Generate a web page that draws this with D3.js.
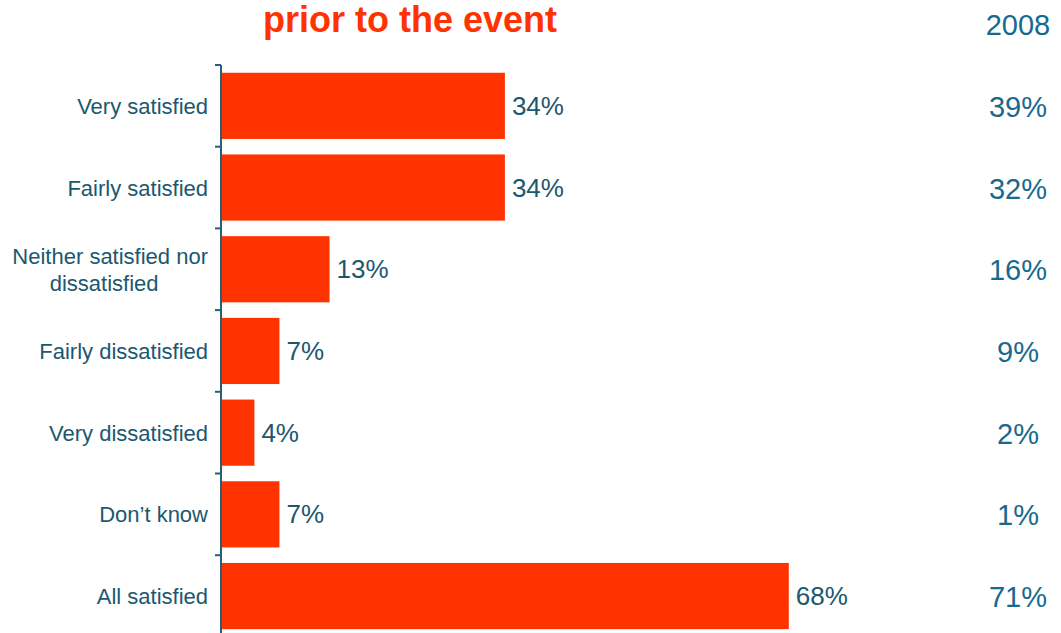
<!DOCTYPE html>
<html><head><meta charset="utf-8">
<script src="https://cdn.jsdelivr.net/npm/d3@7"></script>
<style>body{margin:0;background:#fff}svg{display:block}text{font-family:Arial,"Liberation Sans",sans-serif}</style>
</head><body><svg id="c" width="1061" height="633"></svg>
<script>
const categories = ["Very satisfied","Fairly satisfied","Neither satisfied nor dissatisfied","Fairly dissatisfied","Very dissatisfied","Don\u2019t know","All satisfied"];
const values = [34,34,13,7,4,7,68];
const values2008 = [39,32,16,9,2,1,71];
const title = "prior to the event";
const year = "2008";

const svg = d3.select("#c");
const x0 = 221;
const x = d3.scaleLinear().domain([0,100]).range([x0, x0+835]);
const y = d3.scaleBand().domain(categories).range([65, 65+7*81.7]).paddingInner(0.19).paddingOuter(0.095);

const bar = "#FF3300", teal = "#1B5870", teal2 = "#17698E";

svg.append("text").attr("x",410).attr("y",32).attr("text-anchor","middle")
  .attr("font-size",36).attr("font-weight","bold").attr("fill",bar).text(title);
svg.append("text").attr("x",1018).attr("y",35).attr("text-anchor","middle")
  .attr("font-size",29).attr("fill",teal2).text(year);

svg.selectAll("rect.b").data(categories).join("rect").attr("class","b")
  .attr("x",x(0)+1).attr("y",d=>y(d)).attr("height",y.bandwidth())
  .attr("width",(d,i)=>x(values[i])-x(0)-1).attr("fill",bar);

// axis
const ax = svg.append("g").attr("stroke","#2C5D75").attr("stroke-width",2);
ax.append("line").attr("x1",x0).attr("x2",x0).attr("y1",65).attr("y2",640);
const step = y.step();
d3.range(8).forEach(i=>{
  const yy = 65 + i*step;
  ax.append("line").attr("x1",x0-6).attr("x2",x0).attr("y1",yy).attr("y2",yy);
});

// value labels
svg.selectAll("text.v").data(categories).join("text").attr("class","v")
  .attr("x",(d,i)=>x(values[i])+7).attr("y",d=>y(d)+y.bandwidth()/2+9)
  .attr("font-size",26).attr("fill",teal).text((d,i)=>values[i]+"%");

// right column
svg.selectAll("text.r").data(categories).join("text").attr("class","r")
  .attr("x",1018).attr("y",d=>y(d)+y.bandwidth()/2+11).attr("text-anchor","middle")
  .attr("font-size",29).attr("fill",teal2).text((d,i)=>values2008[i]+"%");

// category labels
categories.forEach(c=>{
  const cy = y(c)+y.bandwidth()/2;
  if (c.startsWith("Neither")) {
    const t1 = svg.append("text").attr("x",208).attr("y",cy-5).attr("text-anchor","end")
      .attr("font-size",22).attr("fill",teal).text("Neither satisfied nor");
    const w = t1.node().getComputedTextLength();
    svg.append("text").attr("x",208-w/2-6).attr("y",cy+22).attr("text-anchor","middle")
      .attr("font-size",22).attr("fill",teal).text("dissatisfied");
  } else {
    svg.append("text").attr("x",208).attr("y",cy+8).attr("text-anchor","end")
      .attr("font-size",22).attr("fill",teal).text(c);
  }
});
</script></body></html>
